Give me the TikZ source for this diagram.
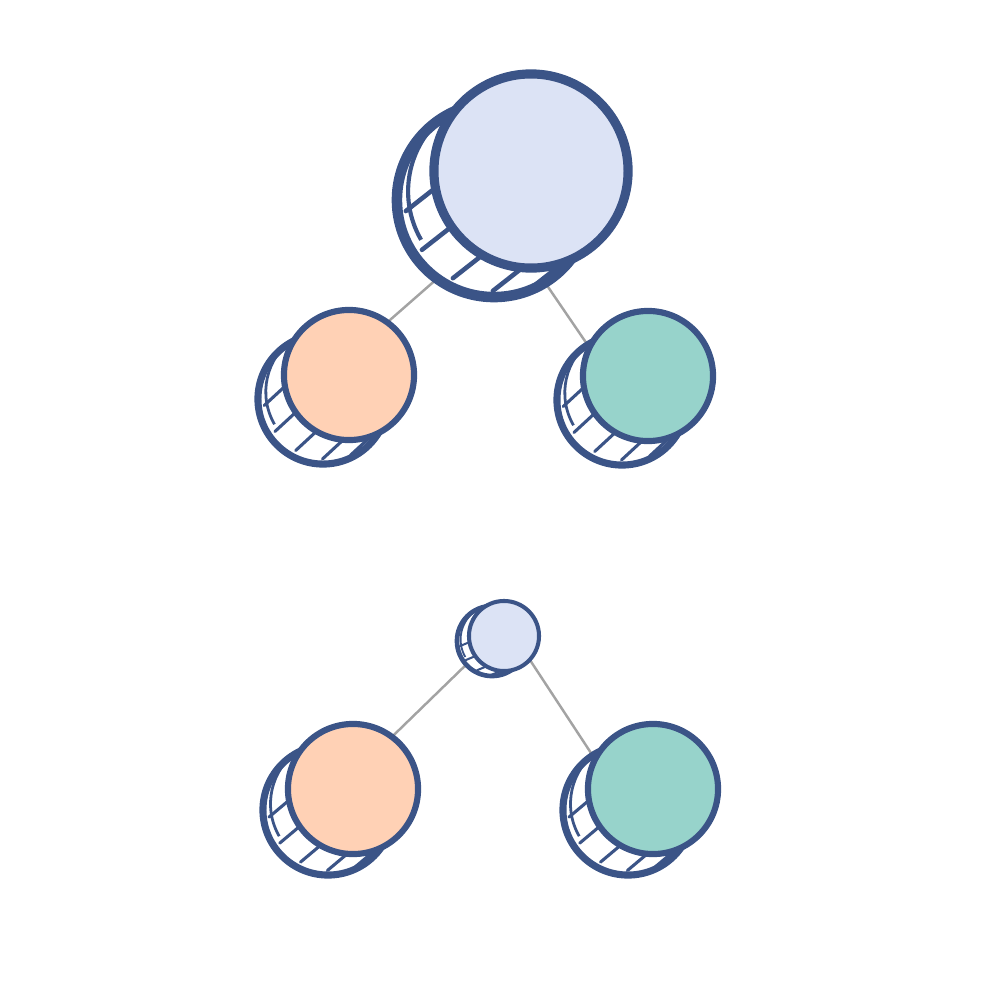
\documentclass[tikz,border=0pt]{standalone}
\usetikzlibrary{backgrounds}
\definecolor{edge}{HTML}{3B5487}
\definecolor{pale}{HTML}{DCE3F5}
\definecolor{peach}{HTML}{FFD1B5}
\definecolor{mint}{HTML}{97D3CB}
\definecolor{wire}{HTML}{A3A3A3}
\tikzset{
  coinback/.style={circle, draw=edge, fill=white, inner sep=0pt, outer sep=0pt},
  coinfront/.style={circle, draw=edge, inner sep=0pt, outer sep=0pt},
  hatch/.style={draw=edge, line cap=round},
  wireline/.style={draw=wire, line width=0.7pt},
}
% name, fx, fy, bx, by, r, fill, lw(pt)
\newcommand\mycoin[8]{%
  \node[coinback, line width={1.15*#8pt}, minimum size={#6*0.02cm}] (#1-back) at (#4,#5) {};
  \draw[edge, line width={0.45*#8pt}] ({#2+0.7*(#4-#2)},{#3+0.7*(#5-#3)}) ++(150:#6) arc[start angle=150, end angle=235, radius=#6];
  \foreach \a in {70,95,...,170}
    \draw[hatch, line width={0.5*#8pt}] ({#2+0.8*(#4-#2)},{#3+0.8*(#5-#3)}) ++(\a:#6) -- ++({0.8*(#2-#4)},{0.8*(#3-#5)});
  \node[coinfront, fill=#7, line width=#8pt, minimum size={#6*0.02cm}] (#1) at (#2,#3) {};
}
\begin{document}
\begin{tikzpicture}[x=0.01cm, y=-0.01cm]
  \useasboundingbox (0,0) rectangle (1000,1000);
  % top tree
  \mycoin{top}{531}{171}{494}{200}{97}{pale}{2.6}
  \mycoin{topl}{349}{375}{323}{399}{65}{peach}{1.75}
  \mycoin{topr}{648}{376}{622}{400}{65}{mint}{1.75}
  % bottom tree
  \mycoin{bot}{504}{636}{492}{641}{35}{pale}{1.15}
  \mycoin{botl}{353}{789}{328}{810}{65}{peach}{1.75}
  \mycoin{botr}{653}{789}{628}{810}{65}{mint}{1.75}
  % connector ends
  \coordinate (top-hub) at (503,221);
  \coordinate (topl-in) at (342,362);
  \coordinate (topr-in) at (615,385);
  \coordinate (bot-hub) at (507,625);
  \coordinate (botl-in) at (364,764);
  \coordinate (botr-in) at (612,785);
  \begin{scope}[on background layer]
    \draw[wireline] (top-hub) -- (topl-in);
    \draw[wireline] (top-hub) -- (topr-in);
    \draw[wireline] (bot-hub) -- (botl-in);
    \draw[wireline] (bot-hub) -- (botr-in);
  \end{scope}
\end{tikzpicture}
\end{document}
